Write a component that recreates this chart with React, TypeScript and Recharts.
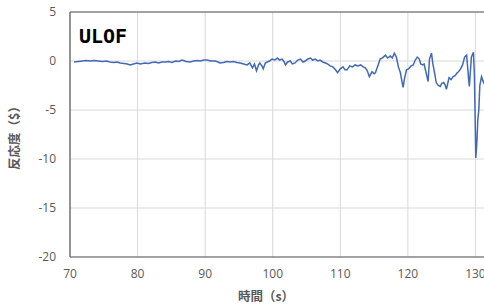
import { CartesianGrid, Label, Line, LineChart, ReferenceLine, XAxis, YAxis } from 'recharts';

// 時間 (s)
const times = [
  70.6, 71.2, 71.8, 72.4, 73.0, 73.6, 74.2, 74.8, 75.4, 75.9, 76.5, 77.0, 77.4, 78.0, 78.5, 78.9,
  79.4, 79.9, 80.4, 81.1, 81.6, 82.1, 82.6, 83.1, 83.6, 84.1, 84.6, 85.1, 85.6, 86.1, 86.6, 87.2,
  87.8, 88.3, 88.8, 89.3, 89.8, 90.3, 90.8, 91.5, 91.9, 92.2, 92.7, 93.2, 93.7, 94.2, 94.7, 95.2,
  95.7, 96.2, 96.6, 97.0, 97.3, 97.6, 97.9, 98.1, 98.4, 98.6, 98.9, 99.2, 99.5, 99.9, 100.3, 100.7,
  101.0, 101.4, 101.7, 101.9, 102.2, 102.6, 102.9, 103.3, 103.7, 104.1, 104.5, 104.8, 105.2, 105.6,
  105.9, 106.3, 106.7, 107.0, 107.4, 107.8, 108.1, 108.5, 108.9, 109.3, 109.6, 110.0, 110.4, 110.7,
  111.0, 111.4, 111.8, 112.2, 112.6, 113.0, 113.4, 113.7, 114.0, 114.3, 114.7, 115.0, 115.2, 115.6,
  115.9, 116.2, 116.7, 117.0, 117.4, 117.7, 118.0, 118.3, 118.6, 118.9, 119.1, 119.3, 119.5, 119.8,
  120.1, 120.5, 120.8, 121.1, 121.4, 121.7, 121.9, 122.2, 122.4, 122.7, 123.0, 123.2, 123.5, 123.7,
  123.9, 124.2, 124.5, 124.8, 125.0, 125.3, 125.5, 125.7, 125.9, 126.1, 126.4, 126.7, 127.0, 127.3,
  127.5, 127.8, 128.1, 128.4, 128.7, 129.0, 129.1, 129.4, 129.7, 129.85, 129.95, 130.05, 130.2,
  130.35, 130.5, 130.65, 130.9, 131.2, 131.5,
];

// 反応度 ($)
const reactivity = [
  -0.1, -0.05, 0.0, 0.05, 0.0, 0.05, 0.0, -0.05, 0.0, -0.1, -0.15, -0.1, -0.2, -0.25, -0.3, -0.4,
  -0.3, -0.2, -0.3, -0.2, -0.25, -0.15, -0.1, -0.2, -0.1, -0.1, -0.05, -0.15, 0.0, -0.05, 0.1, -0.05,
  -0.1, 0.0, 0.05, 0.0, 0.1, 0.1, 0.0, 0.0, -0.1, -0.2, -0.15, -0.05, -0.1, -0.05, -0.15, -0.2,
  -0.3, -0.4, -0.2, -0.7, -0.3, -1.0, -0.4, -0.2, -0.5, -0.8, -0.2, -0.1, 0.0, 0.2, 0.1, 0.3,
  0.1, 0.2, -0.1, -0.4, -0.1, 0.0, -0.3, -0.2, 0.1, 0.2, -0.1, 0.0, 0.2, 0.3,
  0.1, 0.2, 0.0, 0.1, -0.1, -0.2, -0.3, -0.5, -0.6, -0.9, -1.2, -0.8, -0.6, -0.9,
  -0.9, -0.5, -0.6, -0.4, -0.5, -0.4, -0.6, -0.7, -1.0, -1.6, -1.1, -1.3, -1.2, -0.4,
  0.2, 0.3, 0.6, 0.3, 0.5, 0.3, 0.8, 0.4, -0.6, -1.2, -2.0, -2.7, -1.8, -0.9,
  -0.8, -0.5, -0.4, 0.1, 0.4, 0.2, -0.3, -0.4, -0.3, -1.2, -2.1, 0.2, 0.8, -0.3,
  -1.0, -2.2, -2.5, -2.6, -2.3, -2.2, -2.4, -2.9, -2.3, -1.7, -1.9, -1.6, -1.5, -1.2,
  -1.1, -0.8, -0.4, 0.4, 0.6, -1.9, -2.6, 0.4, 0.9, -1.5, -5.5, -9.9, -8.5,
  -6.0, -5.0, -2.5, -1.6, -2.2, -1.8,
];

const xTicks = [70, 80, 90, 100, 110, 120, 130, 140];
const yTicks = [-20, -15, -10, -5, 0, 5];

const data = times.map((t, i) => ({ t, v: reactivity[i] }));

const axisColor = '#595959';
const jpFont = '"Noto Sans CJK JP", sans-serif';
const numFont = '"Open Sans", "Noto Sans", sans-serif';

export default function App() {
  return (
    <div
      style={{
        position: 'fixed',
        left: 0,
        top: 0,
        width: 484,
        height: 304,
        overflow: 'hidden',
        background: '#fff',
      }}
    >
      <LineChart width={543} height={304} data={data} margin={{ top: 12, right: 0, bottom: 0, left: 0 }}>
        <CartesianGrid stroke="#d9d9d9" strokeWidth={1} />
        <XAxis
          type="number"
          dataKey="t"
          domain={[70, 140]}
          ticks={xTicks}
          height={47}
          tickSize={0}
          tickMargin={12}
          stroke={axisColor}
          strokeWidth={1.2}
          tick={{ fill: axisColor, fontSize: 12, fontFamily: numFont }}
        >
          <Label
            content={() => (
              <text
                x={266}
                y={301}
                textAnchor="middle"
                fill={axisColor}
                fontSize={12.5}
                fontWeight="bold"
                fontFamily={jpFont}
              >
                時間（s）
              </text>
            )}
          />
        </XAxis>
        <YAxis
          type="number"
          domain={[-20, 5]}
          ticks={yTicks}
          width={70}
          tickSize={0}
          tickMargin={14}
          stroke={axisColor}
          strokeWidth={1.2}
          tick={{ fill: axisColor, fontSize: 12, fontFamily: numFont }}
        >
          <Label
            content={() => (
              <text
                x={19}
                y={135}
                transform="rotate(-90 19 135)"
                textAnchor="middle"
                fill={axisColor}
                fontSize={12.5}
                fontWeight="bold"
                fontFamily={jpFont}
              >
                反応度（$）
              </text>
            )}
          />
        </YAxis>
        <ReferenceLine y={5} stroke={axisColor} strokeWidth={1.2} />
        <Line
          type="linear"
          dataKey="v"
          stroke="#4169b8"
          strokeWidth={1.5}
          dot={false}
          isAnimationActive={false}
        />
      </LineChart>
      <div
        style={{
          position: 'absolute',
          left: 79,
          top: 24,
          fontFamily: '"DejaVu Sans Mono", monospace',
          fontWeight: 'bold',
          fontSize: 20,
          color: '#000',
          lineHeight: '24px',
        }}
      >
        ULOF
      </div>
    </div>
  );
}
